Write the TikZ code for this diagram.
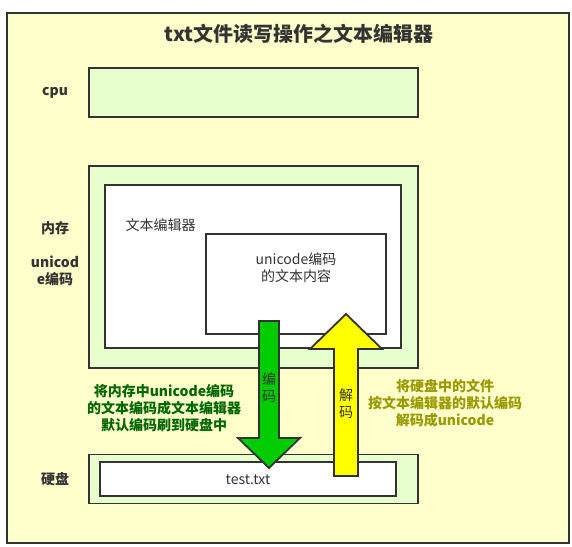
\documentclass[tikz,border=0pt]{standalone}
\usepackage{fontspec}
\setmainfont{Noto Sans CJK SC}
\usetikzlibrary{positioning}

\definecolor{paper}{HTML}{FFFFCC}
\definecolor{leaf}{HTML}{E6FFCC}
\definecolor{edge}{HTML}{333333}
\definecolor{enc}{HTML}{00CC00}
\definecolor{dec}{HTML}{FFFF00}
\definecolor{enctext}{HTML}{006600}
\definecolor{dectext}{HTML}{999900}

\newcommand{\txtsize}{\fontsize{14pt}{17pt}\selectfont}

\begin{document}
\begin{tikzpicture}
    [x=1pt,y=-1pt,
     box/.style={draw=edge,line width=1.8pt,inner sep=0pt},
     pane/.style={box,fill=leaf},
     sheet/.style={box,fill=white},
     lbl/.style={text=edge,font=\txtsize\bfseries,align=center},
     txt/.style={text=edge,font=\txtsize,align=center},
     blockarrow/.style={draw=edge,line width=1.8pt}]
    \useasboundingbox (0,0) rectangle (572,546);
    \node[box,fill=paper,minimum width=562,minimum height=530] (frame) at (288,278) {};
    \node[text=edge,font=\fontsize{20pt}{24pt}\selectfont\bfseries] (title) at (299,34) {txt文件读写操作之文本编辑器};
    % cpu
    \node[pane,minimum width=329,minimum height=49] (cpu) at (253.5,92.5) {};
    \node[lbl] (cpulbl) at (55,93) {cpu};
    % memory
    \node[pane,minimum width=329,minimum height=202] (mem) at (253.5,267) {};
    \node[sheet,minimum width=296,minimum height=163] (editor) at (253,266.5) {};
    \node[txt] (editorlbl) at (160.5,225) {文本编辑器};
    \node[sheet,minimum width=180,minimum height=100] (content) at (296,284) {};
    \node[txt,anchor=north] (contentlbl) at (296,249) {unicode编码\\的文本内容};
    \node[lbl] (memlbl) at (55,228) {内存};
    \node[lbl] (memcode) at (55,271) {unicod\\e编码};
    % disk
    \node[pane,minimum width=329,minimum height=49] (disk) at (253.5,479) {};
    \node[sheet,minimum width=296,minimum height=34] (file) at (248,479) {};
    \node[txt] (filelbl) at (248,480) {test.txt};
    \node[lbl] (disklbl) at (55,479) {硬盘};
    % encode / decode
    \draw[blockarrow,fill=enc] (259,321) -- (279,321) -- (279,438) -- (300,438)
        -- (269,468) -- (238,438) -- (259,438) -- cycle;
    \draw[blockarrow,fill=dec] (334,476) -- (358,476) -- (358,349) -- (382,349)
        -- (346,314) -- (310,349) -- (334,349) -- cycle;
    \node[txt] (enclbl) at (269,388) {编\\码};
    \node[txt] (declbl) at (346,404) {解\\码};
    \node[lbl,text=enctext] (encnote) at (164,408) {将内存中unicode编码\\的文本编码成文本编辑器\\默认编码刷到硬盘中};
    \node[lbl,text=dectext] (decnote) at (445,403) {将硬盘中的文件\\按文本编辑器的默认编码\\解码成unicode};
\end{tikzpicture}
\end{document}
